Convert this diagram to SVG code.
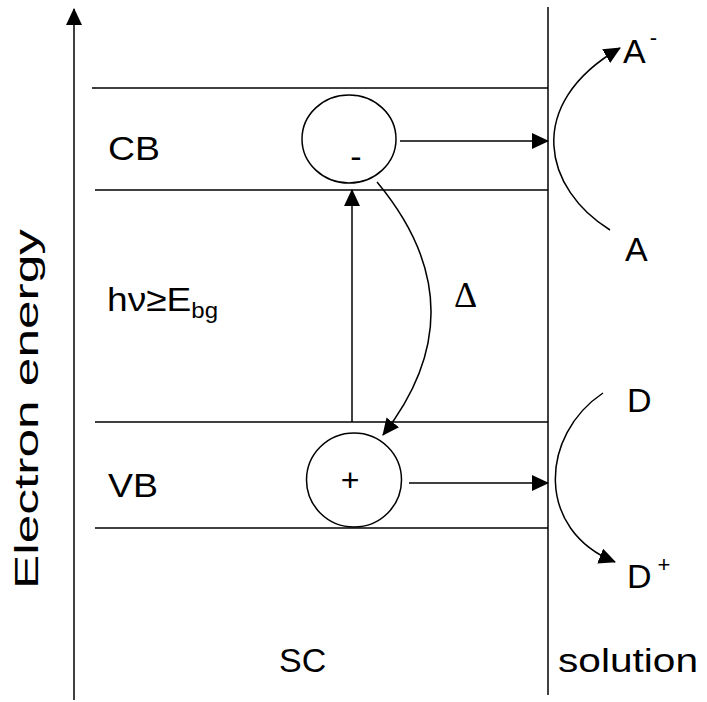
<svg xmlns="http://www.w3.org/2000/svg" width="707" height="702" viewBox="0 0 707 702">
<style>
.ln{stroke:#000;stroke-width:1.5;fill:none}
.t{font-family:"Liberation Sans",Arial,sans-serif;font-size:34px;fill:#000}
.s{font-size:22px}
.d{font-family:"Liberation Serif","Times New Roman",serif;font-size:36px;fill:#000}
</style>
<defs>
<marker id="ah" markerUnits="userSpaceOnUse" markerWidth="17" markerHeight="16" refX="16" refY="8" orient="auto"><path d="M0,0 L17,8 L0,16 Z" fill="#000"/></marker>
</defs>
<g id="frame">
<line class="ln" x1="74" y1="700" x2="74" y2="9" marker-end="url(#ah)"/>
<line class="ln" x1="548" y1="7" x2="548" y2="695"/>
<line class="ln" x1="92" y1="88" x2="548" y2="88"/>
<line class="ln" x1="95" y1="190" x2="548" y2="190"/>
<line class="ln" x1="95" y1="422" x2="548" y2="422"/>
<line class="ln" x1="95" y1="528" x2="548" y2="528"/>
</g>
<g id="labels">
<text class="t" x="38" y="409" text-anchor="middle" transform="rotate(-90 38 409)" textLength="360" lengthAdjust="spacingAndGlyphs">Electron energy</text>
<text class="t" x="108" y="160" textLength="52" lengthAdjust="spacingAndGlyphs">CB</text>
<text class="t" x="108" y="497" textLength="50" lengthAdjust="spacingAndGlyphs">VB</text>
<text class="t" x="107" y="311" textLength="111" lengthAdjust="spacingAndGlyphs">hν≥E<tspan class="s" dy="7">bg</tspan></text>
<text class="d" x="454" y="307">Δ</text>
<text class="t" x="279" y="672">SC</text>
<text class="t" x="558" y="672" textLength="140" lengthAdjust="spacingAndGlyphs">solution</text>
</g>
<g id="electron">
<ellipse class="ln" cx="349" cy="139" rx="47" ry="44"/>
<text class="t" x="356" y="168" text-anchor="middle">-</text>
</g>
<g id="hole">
<ellipse class="ln" cx="354" cy="480" rx="47.5" ry="47"/>
<text class="t" x="350" y="491" text-anchor="middle" style="font-size:32px">+</text>
</g>
<g id="species">
<text class="t" x="623" y="63">A<tspan class="s" dx="4" dy="-18">-</tspan></text>
<text class="t" x="625" y="261">A</text>
<text class="t" x="627" y="412">D</text>
<text class="t" x="627" y="588">D<tspan class="s" dx="6" dy="-16">+</tspan></text>
</g>
<g id="connectors">
<line class="ln" x1="400" y1="141" x2="548" y2="141" marker-end="url(#ah)"/>
<line class="ln" x1="409" y1="483" x2="548" y2="483" marker-end="url(#ah)"/>
<line class="ln" x1="352" y1="422" x2="352" y2="190" marker-end="url(#ah)"/>
<path class="ln" d="M377,182 Q482,308 383,435" marker-end="url(#ah)"/>
<path class="ln" d="M610,230 C545,190 522,105 620,48" marker-end="url(#ah)"/>
<path class="ln" d="M603,393 C540,435 535,530 615,562" marker-end="url(#ah)"/>
</g>
</svg>
